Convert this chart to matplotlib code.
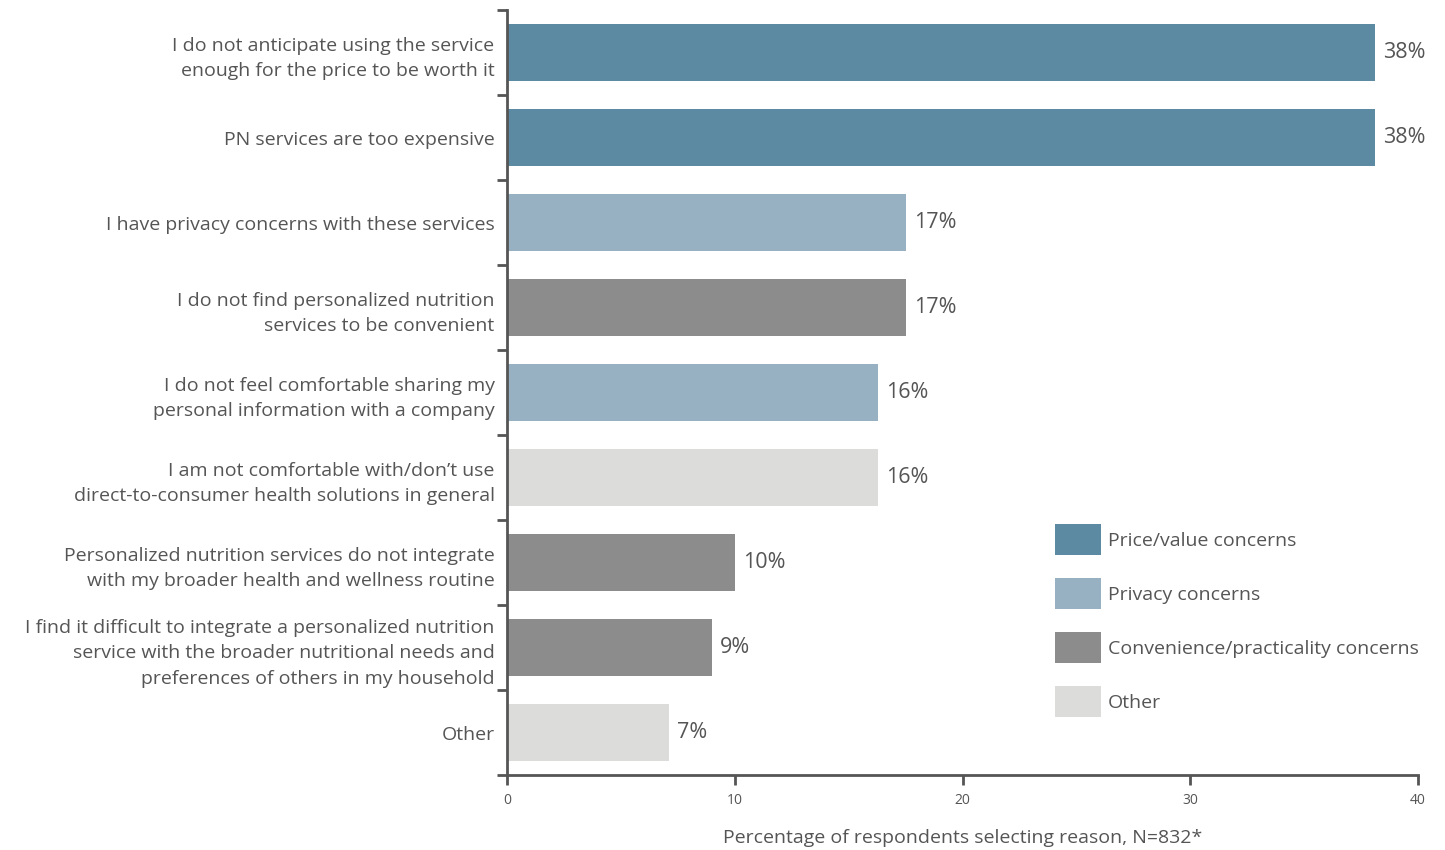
import matplotlib.pyplot as plt
from matplotlib.patches import Patch
from matplotlib.ticker import FixedLocator

plt.rcParams['font.family'] = ['Open Sans', 'DejaVu Sans']

reasons = [
    "I do not anticipate using the service\nenough for the price to be worth it",
    "PN services are too expensive",
    "I have privacy concerns with these services",
    "I do not find personalized nutrition\nservices to be convenient",
    "I do not feel comfortable sharing my\npersonal information with a company",
    "I am not comfortable with/don\u2019t use\ndirect-to-consumer health solutions in general",
    "Personalized nutrition services do not integrate\nwith my broader health and wellness routine",
    "I find it difficult to integrate a personalized nutrition\nservice with the broader nutritional needs and\npreferences of others in my household",
    "Other",
]
values = [38.1, 38.1, 17.5, 17.5, 16.3, 16.3, 10.0, 9.0, 7.1]
labels = ["38%", "38%", "17%", "17%", "16%", "16%", "10%", "9%", "7%"]
groups = ["price", "price", "privacy", "conv", "privacy", "other", "conv", "conv", "other"]

group_names = ["Price/value concerns", "Privacy concerns",
               "Convenience/practicality concerns", "Other"]
colors = {"price": "#5B8AA2", "privacy": "#97B1C2",
          "conv": "#8C8C8C", "other": "#DCDCDB"}
txt = "#555555"

fig = plt.figure(figsize=(14.45, 8.5), dpi=100)
ax = fig.add_axes([0.3509, 0.0882, 0.6304, 0.9])

y = list(range(len(reasons)))
ax.barh(y, values, height=0.67, color=[colors[g] for g in groups])
for yi, v, l in zip(y, values, labels):
    ax.text(v + 0.35, yi, l, va="center", ha="left", fontsize=15.5, color=txt)

ax.set_ylim(len(reasons) - 0.5, -0.5)
ax.set_xlim(0, 40)
ax.set_yticks(y)
ax.set_yticklabels(reasons, fontsize=14, color=txt, linespacing=1.55)
ax.yaxis.set_minor_locator(FixedLocator([i - 0.5 for i in range(len(reasons) + 1)]))
ax.tick_params(axis="y", which="major", length=0, pad=9)
ax.tick_params(axis="y", which="minor", length=7, width=2, color=txt)
ax.set_xticks([0, 10, 20, 30, 40])
ax.tick_params(axis="x", length=7, width=2, color=txt, labelsize=10, labelcolor=txt, pad=6)
ax.set_xlabel("Percentage of respondents selecting reason, N=832*", fontsize=14,
              color=txt, labelpad=15)

for s in ["top", "right"]:
    ax.spines[s].set_visible(False)
for s in ["left", "bottom"]:
    ax.spines[s].set_color(txt)
    ax.spines[s].set_linewidth(2)

handles = [Patch(facecolor=colors[k]) for k in ["price", "privacy", "conv", "other"]]
ax.legend(handles, group_names, loc="upper left", bbox_to_anchor=(0.730, 0.3835),
          bbox_transform=fig.transFigure, frameon=False, fontsize=14,
          labelcolor=txt, handlelength=2.37, handleheight=2.08, handletextpad=0.36,
          labelspacing=1.18, borderpad=0, borderaxespad=0)

fig.savefig("out.png", dpi=100)
